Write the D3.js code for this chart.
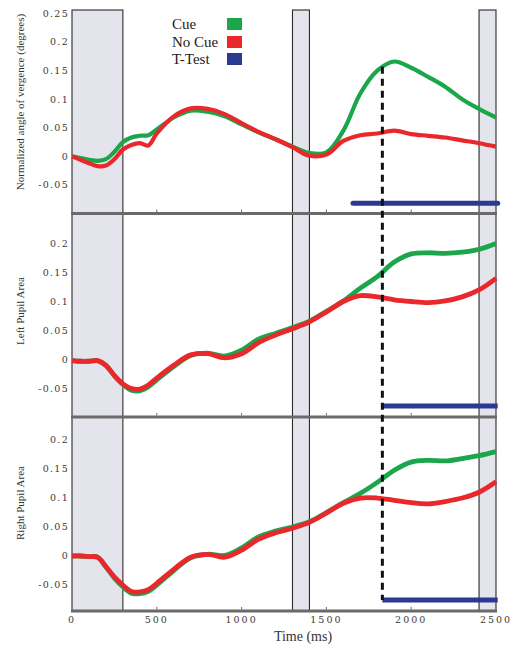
<!DOCTYPE html>
<html><head><meta charset="utf-8">
<script src="https://cdn.jsdelivr.net/npm/d3@7"></script>
<style>body{margin:0;background:#fff}svg{display:block}</style>
</head><body>
<script>
// ---- data ----
const time = [0,50,100,150,200,250,300,350,400,450,500,600,700,800,900,1000,1100,1200,1300,1400,1500,1600,1700,1800,1900,2000,2100,2200,2300,2400,2500];
const vergCue   = [0,-0.003,-0.006,-0.008,-0.005,0.008,0.025,0.033,0.036,0.037,0.047,0.068,0.08,0.078,0.07,0.056,0.042,0.03,0.017,0.006,0.007,0.045,0.11,0.15,0.166,0.155,0.139,0.122,0.1,0.083,0.068];
const vergNoCue = [0,-0.006,-0.012,-0.017,-0.016,-0.005,0.012,0.02,0.023,0.019,0.04,0.07,0.084,0.083,0.074,0.058,0.043,0.03,0.016,0.001,0.003,0.027,0.037,0.04,0.045,0.039,0.036,0.033,0.028,0.023,0.017];
const leftCue   = [-0.002,-0.003,-0.003,-0.002,-0.01,-0.028,-0.043,-0.053,-0.054,-0.047,-0.035,-0.012,0.007,0.011,0.006,0.016,0.035,0.045,0.055,0.066,0.083,0.101,0.123,0.143,0.168,0.182,0.184,0.183,0.185,0.19,0.2];
const leftNoCue = [-0.002,-0.003,-0.003,-0.002,-0.01,-0.028,-0.042,-0.05,-0.051,-0.044,-0.032,-0.01,0.008,0.01,0.003,0.01,0.029,0.042,0.053,0.065,0.082,0.1,0.11,0.108,0.103,0.1,0.098,0.101,0.108,0.12,0.14];
const rightCue   = [0,0,-0.001,-0.002,-0.019,-0.038,-0.053,-0.064,-0.065,-0.061,-0.05,-0.025,-0.003,0.003,0.001,0.014,0.033,0.043,0.05,0.059,0.075,0.092,0.108,0.127,0.148,0.162,0.165,0.164,0.168,0.173,0.18];
const rightNoCue = [0,0,-0.001,-0.002,-0.018,-0.036,-0.05,-0.061,-0.062,-0.058,-0.047,-0.023,-0.002,0.003,-0.002,0.01,0.029,0.04,0.048,0.058,0.074,0.091,0.1,0.1,0.096,0.092,0.09,0.094,0.1,0.11,0.128];
const bands = [[0,300],[1300,1400],[2400,2500]];
const ttest = [[1657,2510],[1830,2510],[1830,2510]];
const cueTime = 1830;
const xTicks = [0,500,1000,1500,2000,2500];
const yTicks1 = [-0.05,0,0.05,0.1,0.15,0.2,0.25];
const yTicks23 = [-0.05,0,0.05,0.1,0.15,0.2];
const yTitles = ["Normalized angle of vergence (degrees)","Left Pupil Area","Right Pupil Area"];
const legendLabels = ["Cue","No Cue","T-Test"];

// ---- layout ----
const W=521,H=650;
const green="#1ba64b", red="#ea272b", blue="#2b3993";
const svg=d3.select("body").append("svg").attr("width",W).attr("height",H);
const x=d3.scaleLinear().domain([0,2500]).range([72,496]);
const panels=[
  {y:d3.scaleLinear().domain([-0.1,0.25]).range([213.5,13.5]), cue:vergCue, nocue:vergNoCue, ticks:yTicks1, bottom:213.5, title:yTitles[0], ty:102, tt:ttest[0], ttv:-0.082, lw:4.2},
  {y:d3.scaleLinear().domain([-0.1,0.25]).range([417.5,214.5]), cue:leftCue, nocue:leftNoCue, ticks:yTicks23, bottom:417, title:yTitles[1], ty:311, tt:ttest[1], ttv:-0.08, lw:4.8},
  {y:d3.scaleLinear().domain([-0.0948,0.238]).range([611,418]), cue:rightCue, nocue:rightNoCue, ticks:yTicks23, bottom:611, title:yTitles[2], ty:503, tt:ttest[2], ttv:-0.076, lw:4.8}
];

// bands
svg.selectAll("rect.band").data(bands).join("rect")
  .attr("x",d=>x(d[0])).attr("width",d=>x(d[1])-x(d[0]))
  .attr("y",10).attr("height",611-10)
  .attr("fill","#e4e5ec").attr("stroke","#2a2a2a").attr("stroke-width",1.1);

panels.forEach((p,i)=>{
  const g=svg.append("g");
  g.selectAll("text.yt").data(p.ticks).join("text")
    .attr("x",69).attr("y",d=>p.y(d)).attr("dy","0.35em")
    .attr("text-anchor","end")
    .attr("font-family","DejaVu Serif").attr("font-size",9.5)
    .attr("letter-spacing","1.3px").attr("fill","#3a3a3a")
    .text(d=>d===0?"0":String(d));
  g.append("text").attr("transform",`translate(24,${p.ty}) rotate(-90)`)
    .attr("text-anchor","middle").attr("font-family","Liberation Serif")
    .attr("font-size",11).attr("fill","#333").text(p.title);
  const line=d3.line().x((d,k)=>x(time[k])).y(d=>p.y(d)).curve(d3.curveCatmullRom);
  g.append("path").attr("d",line(p.cue)).attr("fill","none").attr("stroke",green).attr("stroke-width",p.lw).attr("stroke-linejoin","round");
  g.append("path").attr("d",line(p.nocue)).attr("fill","none").attr("stroke",red).attr("stroke-width",p.lw).attr("stroke-linejoin","round");
  g.append("line").attr("x1",x(p.tt[0])).attr("x2",x(p.tt[1]))
    .attr("y1",p.y(p.ttv)).attr("y2",p.y(p.ttv))
    .attr("stroke",blue).attr("stroke-width",5).attr("stroke-linecap",i===0?"round":"butt");
  g.append("line").attr("x1",71).attr("x2",497).attr("y1",p.bottom).attr("y2",p.bottom)
    .attr("stroke","#6a6a6a").attr("stroke-width",3);
  g.selectAll("line.xt").data(xTicks.slice(1,-1)).join("line")
    .attr("x1",d=>x(d)).attr("x2",d=>x(d)).attr("y1",p.bottom-1.5).attr("y2",p.bottom-4)
    .attr("stroke","#6a6a6a").attr("stroke-width",1);
});

// dashed cue line
svg.append("line").attr("x1",x(cueTime)).attr("x2",x(cueTime))
  .attr("y1",panels[0].y(0.157)).attr("y2",panels[2].y(-0.076))
  .attr("stroke","#111").attr("stroke-width",3).attr("stroke-dasharray","7,5");

// x tick labels
svg.selectAll("text.xt").data(xTicks).join("text")
  .attr("x",d=>x(d)).attr("y",623).attr("text-anchor","middle")
  .attr("font-family","DejaVu Serif").attr("font-size",9.5)
  .attr("letter-spacing","2px").attr("fill","#3a3a3a").text(d=>d);
svg.append("text").attr("x",303).attr("y",641).attr("text-anchor","middle")
  .attr("font-family","Liberation Serif").attr("font-size",14).attr("fill","#333").text("Time (ms)");

// legend
const lc=[green,red,blue];
const lg=svg.append("g");
legendLabels.forEach((t,i)=>{
  const by=[29,47,64][i];
  lg.append("text").attr("x",172).attr("y",by).attr("font-family","Liberation Serif")
    .attr("font-size",15).attr("fill","#222").text(t);
  lg.append("rect").attr("x",227).attr("y",by-11).attr("width",15).attr("height",12).attr("fill",lc[i]);
});
</script>
</body></html>
